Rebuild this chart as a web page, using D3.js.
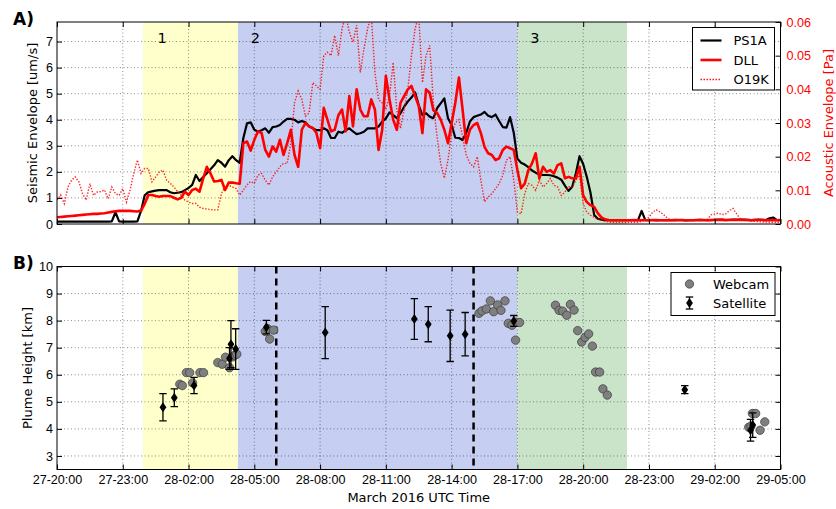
<!DOCTYPE html>
<html>
<head>
<meta charset="utf-8">
<script src="https://cdn.jsdelivr.net/npm/d3@7"></script>
<style>
  body { margin: 0; background: #fff; }
  svg { font-family: "DejaVu Sans", sans-serif; }
  .tick text { font-size: 12.6px; }
</style>
</head>
<body>
<svg id="chart" width="836" height="509"></svg>
<script>
// time labels are "DD-HH:MM", March 2016, UTC
var tickTimes = ['27-20:00', '27-23:00', '28-02:00', '28-05:00', '28-08:00', '28-11:00',
  '28-14:00', '28-17:00', '28-20:00', '28-23:00', '29-02:00', '29-05:00'];

var phaseLabels = ['1', '2', '3'];
var phaseStarts = ['27-23:55', '28-04:15', '28-17:00'];
var phaseEnds = ['28-04:15', '28-17:00', '28-22:00'];
var phaseLabelTimes = ['28-00:35', '28-04:50', '28-17:35'];
var dashedTimes = ['28-06:00', '28-15:00'];

// envelopes, one value every 10 minutes from 27-20:00 (one row per hour)
var seriesStart = '27-20:00';
var ps1a = [
  0.09, 0.09, 0.09, 0.09, 0.09, 0.09,
  0.09, 0.09, 0.09, 0.09, 0.09, 0.09,
  0.09, 0.09, 0.09, 0.10, 0.45, 0.10,
  0.09, 0.09, 0.09, 0.09, 0.10, 0.50,
  1.10, 1.22, 1.25, 1.28, 1.30, 1.30,
  1.30, 1.22, 1.18, 1.20, 1.22, 1.30,
  1.38, 1.50, 1.88, 1.65, 1.80, 1.95,
  2.10, 2.25, 2.45, 2.35, 2.20, 2.45,
  2.60, 2.45, 2.35, 3.30, 3.86, 3.90,
  3.62, 3.54, 3.60, 3.67, 3.50, 3.72,
  3.74, 3.80, 3.93, 4.03, 4.03, 4.00,
  3.90, 3.95, 3.90, 3.74, 3.67, 3.60,
  3.60, 3.67, 3.60, 3.30, 3.30, 3.54,
  3.50, 3.60, 3.67, 3.55, 3.45, 3.48,
  3.54, 3.67, 3.67, 3.67, 3.74, 3.93,
  4.05, 4.28, 4.18, 4.06, 4.25, 4.50,
  4.70, 4.85, 5.05, 4.55, 4.18, 4.25,
  4.12, 4.06, 4.44, 4.63, 4.82, 4.06,
  3.80, 3.31, 3.30, 3.22, 3.50, 3.93,
  4.10, 4.15, 4.20, 4.30, 4.15, 4.10,
  4.20, 3.95, 3.72, 3.70, 4.10, 3.50,
  2.50, 2.35, 2.28, 2.18, 2.05, 1.97,
  1.90, 1.88, 1.88, 1.87, 1.83, 1.78,
  1.70, 1.47, 1.27, 1.43, 1.95, 2.60,
  2.30, 1.80, 1.20, 0.35, 0.20, 0.17,
  0.15, 0.15, 0.15, 0.15, 0.15, 0.15,
  0.15, 0.15, 0.15, 0.15, 0.50, 0.15,
  0.15, 0.15, 0.14, 0.15, 0.15, 0.15,
  0.15, 0.16, 0.15, 0.15, 0.14, 0.15,
  0.15, 0.15, 0.16, 0.15, 0.15, 0.15,
  0.16, 0.17, 0.16, 0.15, 0.16, 0.17,
  0.17, 0.16, 0.17, 0.16, 0.15, 0.16,
  0.17, 0.16, 0.15, 0.22, 0.25, 0.15,
  0.16
];
var dll = [
  0.0020, 0.0021, 0.0022, 0.0023, 0.0024, 0.0025,
  0.0026, 0.0027, 0.0028, 0.0029, 0.0030, 0.0030,
  0.0031, 0.0032, 0.0034, 0.0036, 0.0038, 0.0039,
  0.0039, 0.0039, 0.0039, 0.0038, 0.0037, 0.0040,
  0.0060, 0.0086, 0.0086, 0.0083, 0.0081, 0.0083,
  0.0083, 0.0083, 0.0078, 0.0073, 0.0078, 0.0096,
  0.0086, 0.0101, 0.0105, 0.0096, 0.0135, 0.0170,
  0.0150, 0.0126, 0.0128, 0.0131, 0.0101, 0.0123,
  0.0123, 0.0121, 0.0120, 0.0240, 0.0245, 0.0218,
  0.0250, 0.0275, 0.0270, 0.0220, 0.0200, 0.0230,
  0.0215, 0.0250, 0.0205, 0.0240, 0.0280, 0.0205,
  0.0170, 0.0280, 0.0300, 0.0290, 0.0285, 0.0270,
  0.0225, 0.0345, 0.0310, 0.0275, 0.0280, 0.0323,
  0.0340, 0.0275, 0.0380, 0.0290, 0.0400, 0.0340,
  0.0320, 0.0320, 0.0370, 0.0340, 0.0220, 0.0280,
  0.0440, 0.0370, 0.0310, 0.0280, 0.0360, 0.0380,
  0.0400, 0.0410, 0.0380, 0.0350, 0.0270, 0.0400,
  0.0390, 0.0338, 0.0330, 0.0310, 0.0280, 0.0240,
  0.0300, 0.0360, 0.0435, 0.0340, 0.0240, 0.0280,
  0.0294, 0.0300, 0.0270, 0.0229, 0.0210, 0.0205,
  0.0190, 0.0195, 0.0220, 0.0230, 0.0225, 0.0220,
  0.0160, 0.0106, 0.0120, 0.0160, 0.0180, 0.0210,
  0.0135, 0.0170, 0.0155, 0.0160, 0.0150, 0.0175,
  0.0180, 0.0136, 0.0140, 0.0136, 0.0135, 0.0170,
  0.0085, 0.0065, 0.0056, 0.0051, 0.0032, 0.0020,
  0.0014, 0.0012, 0.0011, 0.0011, 0.0011, 0.0011,
  0.0011, 0.0011, 0.0012, 0.0011, 0.0011, 0.0011,
  0.0011, 0.0012, 0.0012, 0.0011, 0.0011, 0.0011,
  0.0011, 0.0011, 0.0012, 0.0012, 0.0011, 0.0011,
  0.0011, 0.0012, 0.0012, 0.0012, 0.0011, 0.0012,
  0.0012, 0.0012, 0.0013, 0.0012, 0.0012, 0.0012,
  0.0012, 0.0013, 0.0012, 0.0012, 0.0011, 0.0012,
  0.0012, 0.0012, 0.0011, 0.0011, 0.0012, 0.0011,
  0.0011
];
var o19k = [
  0.0071, 0.0086, 0.0060, 0.0110, 0.0130, 0.0140,
  0.0125, 0.0090, 0.0071, 0.0120, 0.0085, 0.0095,
  0.0096, 0.0101, 0.0075, 0.0110, 0.0090, 0.0085,
  0.0105, 0.0065, 0.0101, 0.0150, 0.0190, 0.0150,
  0.0165, 0.0165, 0.0125, 0.0140, 0.0155, 0.0160,
  0.0130, 0.0121, 0.0110, 0.0096, 0.0085, 0.0071,
  0.0065, 0.0061, 0.0061, 0.0050, 0.0046, 0.0045,
  0.0043, 0.0042, 0.0042, 0.0091, 0.0110, 0.0115,
  0.0110, 0.0105, 0.0086, 0.0101, 0.0116, 0.0126,
  0.0121, 0.0145, 0.0150, 0.0130, 0.0116, 0.0140,
  0.0155, 0.0170, 0.0180, 0.0180, 0.0240, 0.0360,
  0.0395, 0.0370, 0.0320, 0.0330, 0.0420, 0.0410,
  0.0400, 0.0500, 0.0510, 0.0500, 0.0560, 0.0500,
  0.0580, 0.0620, 0.0570, 0.0540, 0.0590, 0.0450,
  0.0520, 0.0580, 0.0620, 0.0450, 0.0370, 0.0360,
  0.0340, 0.0380, 0.0480, 0.0340, 0.0284, 0.0340,
  0.0400, 0.0500, 0.0580, 0.0620, 0.0420, 0.0500,
  0.0530, 0.0360, 0.0260, 0.0180, 0.0136, 0.0190,
  0.0270, 0.0300, 0.0310, 0.0260, 0.0205, 0.0180,
  0.0170, 0.0200, 0.0130, 0.0066, 0.0080, 0.0090,
  0.0105, 0.0120, 0.0145, 0.0190, 0.0200, 0.0130,
  0.0035, 0.0030, 0.0090, 0.0120, 0.0115, 0.0100,
  0.0130, 0.0110, 0.0120, 0.0135, 0.0115, 0.0110,
  0.0085, 0.0095, 0.0110, 0.0110, 0.0130, 0.0145,
  0.0060, 0.0035, 0.0026, 0.0020, 0.0014, 0.0012,
  0.0008, 0.0006, 0.0005, 0.0005, 0.0005, 0.0005,
  0.0005, 0.0005, 0.0005, 0.0005, 0.0008, 0.0012,
  0.0020, 0.0035, 0.0042, 0.0036, 0.0028, 0.0018,
  0.0012, 0.0012, 0.0012, 0.0012, 0.0011, 0.0012,
  0.0012, 0.0011, 0.0012, 0.0012, 0.0014, 0.0027,
  0.0030, 0.0032, 0.0028, 0.0030, 0.0040, 0.0046,
  0.0030, 0.0015, 0.0010, 0.0010, 0.0009, 0.0008,
  0.0007, 0.0006, 0.0006, 0.0005, 0.0005, 0.0005,
  0.0005
];

// plume heights [km]
var webcamTimes = ['28-01:36', '28-01:43', '28-01:54', '28-02:03', '28-02:11', '28-02:31', '28-02:41',
  '28-03:20', '28-03:32', '28-03:41', '28-03:52', '28-04:01', '28-04:06', '28-04:12',
  '28-05:30', '28-05:37', '28-05:42', '28-05:53',
  '28-15:15', '28-15:23', '28-15:35', '28-15:46', '28-15:55', '28-16:06', '28-16:15', '28-16:26',
  '28-16:35', '28-16:45', '28-16:55', '28-16:57', '28-17:06',
  '28-18:44', '28-18:54', '28-19:04', '28-19:15', '28-19:25', '28-19:35', '28-19:45', '28-19:56',
  '28-20:05', '28-20:15', '28-20:25', '28-20:34', '28-20:45', '28-20:54', '28-21:06',
  '29-03:33', '29-03:39', '29-03:43', '29-03:52', '29-04:04', '29-04:17'];
var webcamHeights = [5.65, 5.6, 6.08, 6.08, 5.7, 6.08, 6.08,
  6.45, 6.39, 6.65, 6.26, 6.66, 6.72, 6.76,
  7.6, 7.7, 7.32, 7.65,
  8.27, 8.36, 8.43, 8.73, 8.33, 8.58, 8.38, 8.73,
  7.9, 7.83, 7.28, 7.94, 7.93,
  8.57, 8.38, 8.35, 8.2, 8.6, 8.39, 7.63, 7.21,
  7.38, 7.51, 7.06, 6.1, 6.1, 5.48, 5.25,
  4.06, 4.1, 4.57, 4.57, 3.95, 4.26];

var satTimes = ['28-00:50', '28-01:21', '28-02:15', '28-03:52', '28-03:56', '28-04:09', '28-05:33',
  '28-08:14', '28-12:18', '28-12:56', '28-13:56', '28-14:37', '28-16:50',
  '29-00:38', '29-03:38', '29-03:44'];
var satHeights = [4.8, 5.15, 5.6, 6.6, 7.13, 6.95, 7.76,
  7.56, 8.06, 7.87, 7.44, 7.5, 7.99,
  5.45, 3.95, 4.14];
var satErrors = [0.5, 0.33, 0.3, 0.4, 0.87, 0.75, 0.25,
  0.96, 0.75, 0.65, 0.95, 0.8, 0.2,
  0.15, 0.4, 0.45];

var phaseColors = ['#ffffcc', '#c6cef2', '#cae4ca'];
var acousticColor = '#ff0000';
var dottedDash = '1.4,1.6';

function parseTime(s) {
  var parts = s.split('-');
  var hm = parts[1].split(':');
  return new Date(Date.UTC(2016, 2, +parts[0], +hm[0], +hm[1]));
}

var svg = d3.select('#chart');
var plotLeft = 57, plotRight = 780.5;
var panelA = {top: 22, bottom: 224};
var panelB = {top: 266.5, bottom: 469.5};

var tickDates = tickTimes.map(parseTime);
var x = d3.scaleUtc()
  .domain([tickDates[0], tickDates[tickDates.length - 1]])
  .range([plotLeft, plotRight]);
var ySeis = d3.scaleLinear().domain([0, 7.75]).range([panelA.bottom, panelA.top]);
var yAcou = d3.scaleLinear().domain([0, 0.06]).range([panelA.bottom, panelA.top]);
var yPlume = d3.scaleLinear().domain([2.5, 10]).range([panelB.bottom, panelB.top]);

var start = parseTime(seriesStart);
function sampleTime(i) {
  return d3.utcMinute.offset(start, 10 * i);
}

svg.append('defs').selectAll('clipPath')
  .data([['clipA', panelA], ['clipB', panelB]])
  .enter().append('clipPath')
  .attr('id', function(d) { return d[0]; })
  .append('rect')
  .attr('x', plotLeft)
  .attr('y', function(d) { return d[1].top; })
  .attr('width', plotRight - plotLeft)
  .attr('height', function(d) { return d[1].bottom - d[1].top; });

function drawPhases(panel) {
  svg.append('g').selectAll('rect')
    .data(phaseLabels)
    .enter().append('rect')
    .attr('x', function(d, i) { return x(parseTime(phaseStarts[i])); })
    .attr('width', function(d, i) { return x(parseTime(phaseEnds[i])) - x(parseTime(phaseStarts[i])); })
    .attr('y', panel.top)
    .attr('height', panel.bottom - panel.top)
    .attr('fill', function(d, i) { return phaseColors[i]; });
}

function drawGrid(panel, yScale, yTicks) {
  var g = svg.append('g')
    .attr('stroke', '#000')
    .attr('stroke-width', 0.6)
    .attr('stroke-dasharray', '1,2.5')
    .attr('opacity', 0.75);
  g.selectAll('.vgrid')
    .data(tickDates.slice(1, -1))
    .enter().append('line')
    .attr('x1', function(d) { return x(d); })
    .attr('x2', function(d) { return x(d); })
    .attr('y1', panel.top)
    .attr('y2', panel.bottom);
  g.selectAll('.hgrid')
    .data(yTicks.filter(function(v) {
      var p = yScale(v);
      return p > panel.top + 1 && p < panel.bottom - 1;
    }))
    .enter().append('line')
    .attr('x1', plotLeft)
    .attr('x2', plotRight)
    .attr('y1', function(d) { return yScale(d); })
    .attr('y2', function(d) { return yScale(d); });
}

function drawFrame(panel) {
  svg.append('rect')
    .attr('x', plotLeft)
    .attr('y', panel.top)
    .attr('width', plotRight - plotLeft)
    .attr('height', panel.bottom - panel.top)
    .attr('fill', 'none')
    .attr('stroke', '#000')
    .attr('stroke-width', 1);
}

function styleAxis(g) {
  g.select('.domain').remove();
  g.selectAll('.tick line').attr('stroke', '#000');
  g.selectAll('.tick text').attr('fill', '#000');
}

/*
 * Panel A: seismic and acoustic envelopes
 */
drawPhases(panelA);
var seisTicks = d3.range(0, 8);
drawGrid(panelA, ySeis, seisTicks);

var linesA = svg.append('g').attr('clip-path', 'url(#clipA)');
linesA.append('path')
  .datum(ps1a)
  .attr('fill', 'none')
  .attr('stroke', '#000')
  .attr('stroke-width', 2.2)
  .attr('stroke-linejoin', 'round')
  .attr('d', d3.line()
    .x(function(d, i) { return x(sampleTime(i)); })
    .y(function(d) { return ySeis(d); }));
linesA.append('path')
  .datum(dll)
  .attr('fill', 'none')
  .attr('stroke', acousticColor)
  .attr('stroke-width', 2.6)
  .attr('stroke-linejoin', 'round')
  .attr('d', d3.line()
    .x(function(d, i) { return x(sampleTime(i)); })
    .y(function(d) { return yAcou(d); }));
linesA.append('path')
  .datum(o19k)
  .attr('fill', 'none')
  .attr('stroke', acousticColor)
  .attr('stroke-width', 1.4)
  .attr('stroke-opacity', 0.85)
  .attr('stroke-dasharray', dottedDash)
  .attr('d', d3.line()
    .x(function(d, i) { return x(sampleTime(i)); })
    .y(function(d) { return yAcou(d); }));

svg.append('g')
  .selectAll('text')
  .data(phaseLabels)
  .enter().append('text')
  .attr('x', function(d, i) { return x(parseTime(phaseLabelTimes[i])); })
  .attr('y', ySeis(7) + 1)
  .attr('font-size', 14.5)
  .text(function(d) { return d; });

drawFrame(panelA);

svg.append('g')
  .attr('transform', 'translate(' + plotLeft + ',0)')
  .call(d3.axisLeft(ySeis).tickValues(seisTicks).tickSize(-5).tickPadding(4).tickFormat(d3.format('d')))
  .call(styleAxis);
svg.append('g')
  .attr('transform', 'translate(' + plotRight + ',0)')
  .call(d3.axisRight(yAcou).tickValues(d3.range(0, 7).map(function(v) { return v / 100; }))
    .tickSize(-5).tickPadding(6).tickFormat(d3.format('.2f')))
  .call(styleAxis)
  .selectAll('.tick text').attr('fill', acousticColor);
svg.append('g')
  .attr('transform', 'translate(0,' + panelA.bottom + ')')
  .call(d3.axisBottom(x).tickValues(tickDates).tickSize(-5).tickFormat(''))
  .call(styleAxis);
svg.append('g')
  .attr('transform', 'translate(0,' + panelA.top + ')')
  .call(d3.axisTop(x).tickValues(tickDates).tickSize(-5).tickFormat(''))
  .call(styleAxis);

svg.append('text')
  .attr('transform', 'translate(32,' + ((panelA.top + panelA.bottom) / 2) + ') rotate(-90)')
  .attr('text-anchor', 'middle')
  .attr('dy', '0.35em')
  .attr('font-size', 13)
  .text('Seismic Envelope [um/s]');
svg.append('text')
  .attr('transform', 'translate(828,' + ((panelA.top + panelA.bottom) / 2) + ') rotate(-90)')
  .attr('text-anchor', 'middle')
  .attr('dy', '0.35em')
  .attr('font-size', 13)
  .attr('fill', acousticColor)
  .text('Acoustic Envelope [Pa]');
svg.append('text')
  .attr('x', 13)
  .attr('y', 25)
  .attr('font-size', 17)
  .attr('font-weight', 'bold')
  .text('A)');

// legend A
var legendA = svg.append('g').attr('transform', 'translate(692.5,27.5)');
legendA.append('rect')
  .attr('width', 82)
  .attr('height', 62.5)
  .attr('fill', '#fff')
  .attr('stroke', '#000')
  .attr('stroke-width', 1);
var legendAItems = [
  {name: 'PS1A', color: '#000', width: 2.2, dash: null},
  {name: 'DLL', color: acousticColor, width: 2.6, dash: null},
  {name: 'O19K', color: acousticColor, width: 1.4, dash: dottedDash}
];
legendAItems.forEach(function(item, i) {
  var yy = 13 + i * 19.5;
  legendA.append('line')
    .attr('x1', 8).attr('x2', 29)
    .attr('y1', yy).attr('y2', yy)
    .attr('stroke', item.color)
    .attr('stroke-width', item.width)
    .attr('stroke-dasharray', item.dash);
  legendA.append('text')
    .attr('x', 41)
    .attr('y', yy)
    .attr('dy', '0.35em')
    .attr('font-size', 13)
    .text(item.name);
});

/*
 * Panel B: plume height
 */
drawPhases(panelB);
var plumeTicks = d3.range(3, 11);
drawGrid(panelB, yPlume, plumeTicks);

svg.append('g').selectAll('line')
  .data(dashedTimes)
  .enter().append('line')
  .attr('x1', function(d) { return x(parseTime(d)); })
  .attr('x2', function(d) { return x(parseTime(d)); })
  .attr('y1', panelB.top)
  .attr('y2', panelB.bottom)
  .attr('stroke', '#000')
  .attr('stroke-width', 2.5)
  .attr('stroke-dasharray', '7,5');

var pointsB = svg.append('g').attr('clip-path', 'url(#clipB)');
pointsB.selectAll('.webcam')
  .data(webcamHeights)
  .enter().append('circle')
  .attr('class', 'webcam')
  .attr('cx', function(d, i) { return x(parseTime(webcamTimes[i])); })
  .attr('cy', function(d) { return yPlume(d); })
  .attr('r', 4.2)
  .attr('fill', '#7f7f7f')
  .attr('stroke', '#3a3a3a')
  .attr('stroke-width', 0.7);

var diamond = 'M0,-5L3.4,0L0,5L-3.4,0Z';
var capHalf = 3.7;
var sat = pointsB.selectAll('.sat')
  .data(satHeights)
  .enter().append('g')
  .attr('class', 'sat')
  .attr('stroke', '#000')
  .attr('stroke-width', 1.3)
  .attr('transform', function(d, i) {
    return 'translate(' + x(parseTime(satTimes[i])) + ',0)';
  });
sat.append('line')
  .attr('y1', function(d, i) { return yPlume(d - satErrors[i]); })
  .attr('y2', function(d, i) { return yPlume(d + satErrors[i]); });
sat.append('line')
  .attr('x1', -capHalf).attr('x2', capHalf)
  .attr('y1', function(d, i) { return yPlume(d + satErrors[i]); })
  .attr('y2', function(d, i) { return yPlume(d + satErrors[i]); });
sat.append('line')
  .attr('x1', -capHalf).attr('x2', capHalf)
  .attr('y1', function(d, i) { return yPlume(d - satErrors[i]); })
  .attr('y2', function(d, i) { return yPlume(d - satErrors[i]); });
sat.append('path')
  .attr('d', diamond)
  .attr('transform', function(d) { return 'translate(0,' + yPlume(d) + ')'; })
  .attr('stroke', 'none')
  .attr('fill', '#000');

drawFrame(panelB);

svg.append('g')
  .attr('transform', 'translate(' + plotLeft + ',0)')
  .call(d3.axisLeft(yPlume).tickValues(plumeTicks).tickSize(-5).tickPadding(4).tickFormat(d3.format('d')))
  .call(styleAxis);
svg.append('g')
  .attr('transform', 'translate(' + plotRight + ',0)')
  .call(d3.axisRight(yPlume).tickValues(plumeTicks).tickSize(-5).tickFormat(''))
  .call(styleAxis);
svg.append('g')
  .attr('transform', 'translate(0,' + panelB.bottom + ')')
  .call(d3.axisBottom(x).tickValues(tickDates).tickSize(-5).tickPadding(6)
    .tickFormat(d3.utcFormat('%d-%H:%M')))
  .call(styleAxis);
svg.append('g')
  .attr('transform', 'translate(0,' + panelB.top + ')')
  .call(d3.axisTop(x).tickValues(tickDates).tickSize(-5).tickFormat(''))
  .call(styleAxis);

svg.append('text')
  .attr('transform', 'translate(27,' + ((panelB.top + panelB.bottom) / 2) + ') rotate(-90)')
  .attr('text-anchor', 'middle')
  .attr('dy', '0.35em')
  .attr('font-size', 13)
  .text('Plume Height [km]');
svg.append('text')
  .attr('x', (plotLeft + plotRight) / 2)
  .attr('y', 502)
  .attr('text-anchor', 'middle')
  .attr('font-size', 13)
  .text('March 2016 UTC Time');
svg.append('text')
  .attr('x', 13)
  .attr('y', 269)
  .attr('font-size', 17)
  .attr('font-weight', 'bold')
  .text('B)');

// legend B
var legendB = svg.append('g').attr('transform', 'translate(671,272.5)');
legendB.append('rect')
  .attr('width', 104)
  .attr('height', 43)
  .attr('fill', '#fff')
  .attr('stroke', '#000')
  .attr('stroke-width', 1);
legendB.append('circle')
  .attr('cx', 18.5).attr('cy', 11.5).attr('r', 4.2)
  .attr('fill', '#7f7f7f')
  .attr('stroke', '#3a3a3a')
  .attr('stroke-width', 0.7);
var legendSat = legendB.append('g')
  .attr('stroke', '#000')
  .attr('stroke-width', 1.3);
legendSat.append('line')
  .attr('x1', 18.5).attr('x2', 18.5).attr('y1', 24.5).attr('y2', 36.5);
legendSat.append('line')
  .attr('x1', 18.5 - capHalf).attr('x2', 18.5 + capHalf).attr('y1', 24.5).attr('y2', 24.5);
legendSat.append('line')
  .attr('x1', 18.5 - capHalf).attr('x2', 18.5 + capHalf).attr('y1', 36.5).attr('y2', 36.5);
legendB.append('path')
  .attr('d', diamond)
  .attr('transform', 'translate(18.5,30.5)')
  .attr('fill', '#000');
legendB.selectAll('.label')
  .data(['Webcam', 'Satellite'])
  .enter().append('text')
  .attr('x', 42)
  .attr('y', function(d, i) { return 11.5 + i * 19.5; })
  .attr('dy', '0.35em')
  .attr('font-size', 13)
  .text(function(d) { return d; });
</script>
</body>
</html>
